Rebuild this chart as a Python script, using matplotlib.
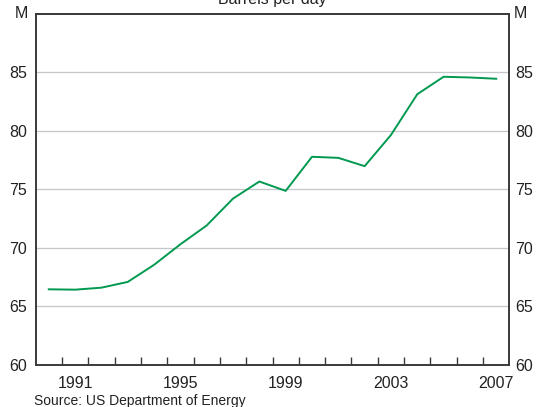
import matplotlib
matplotlib.use("Agg")
import matplotlib.pyplot as plt
import numpy as np

plt.rcParams['font.family'] = ['Liberation Sans', 'DejaVu Sans']

# World oil consumption, million barrels per day (annual)
years = np.arange(1990, 2008)
barrels = [66.46, 66.43, 66.6, 67.09, 68.55, 70.3, 71.91, 74.2, 75.66,
           74.86, 77.77, 77.68, 76.97, 79.63, 83.11, 84.6, 84.54, 84.43]
label_years = [1991, 1995, 1999, 2003, 2007]
y_ticks = [60, 65, 70, 75, 80, 85]

fig = plt.figure(figsize=(5.36, 4.07), dpi=100)
ax = fig.add_axes([35.6 / 536, 1 - 365 / 407, (509.4 - 35.6) / 536, (365 - 13.5) / 407])

spine_col = '#3a3a3a'
text_col = '#222222'

# grid lines drawn as horizontal lines (skip the bottom)
for v in y_ticks[1:]:
    ax.axhline(v, color='#c3c7cb', lw=0.9, zorder=1)

# each point sits in the middle of its year
ax.plot(years + 0.5, barrels, color='#00994f', lw=1.4, zorder=3)

ax.set_xlim(1990, 2008)
ax.set_ylim(60, 90)

# year boundary ticks (inward), labels at mid-year
ax.set_xticks(np.arange(1991, 2008))
ax.set_xticklabels([])
ax.tick_params(axis='x', which='major', direction='in', length=6, width=1, color=spine_col)
ax.set_xticks([y + 0.5 for y in label_years], minor=True)
ax.set_xticklabels([str(y) for y in label_years], minor=True)
ax.tick_params(axis='x', which='minor', length=0, pad=8, labelsize=11.5, labelcolor=text_col)

ax.set_yticks(y_ticks)
ax.set_yticklabels([str(v) for v in y_ticks])
ax.tick_params(axis='y', length=0, pad=6, labelsize=11.5, labelcolor=text_col)

ax2 = ax.twinx()
ax2.set_ylim(60, 90)
ax2.set_yticks(y_ticks)
ax2.set_yticklabels([str(v) for v in y_ticks])
ax2.tick_params(axis='y', length=0, pad=4, labelsize=11.5, labelcolor=text_col)

for a in (ax, ax2):
    for s in a.spines.values():
        s.set_color(spine_col)
        s.set_linewidth(1.2)
ax.spines['top'].set_color('#222222')

# unit labels at the top of both axes
ax.text(-0.016, 1.0, 'M', transform=ax.transAxes, ha='right', va='center',
        fontsize=11.5, color=text_col)
ax.text(1.009, 1.0, 'M', transform=ax.transAxes, ha='left', va='center',
        fontsize=11.5, color=text_col)

# title, partly cut off by the top edge as in the source
fig.text(272.5 / 536, 1 - 4 / 407, 'Barrels per day', ha='center', va='baseline',
         fontsize=11.5, color=text_col)

fig.text(34.5 / 536, 1 - 405 / 407, 'Source: US Department of Energy', ha='left',
         va='baseline', fontsize=10, color=text_col)

fig.savefig('out.png', dpi=100)
